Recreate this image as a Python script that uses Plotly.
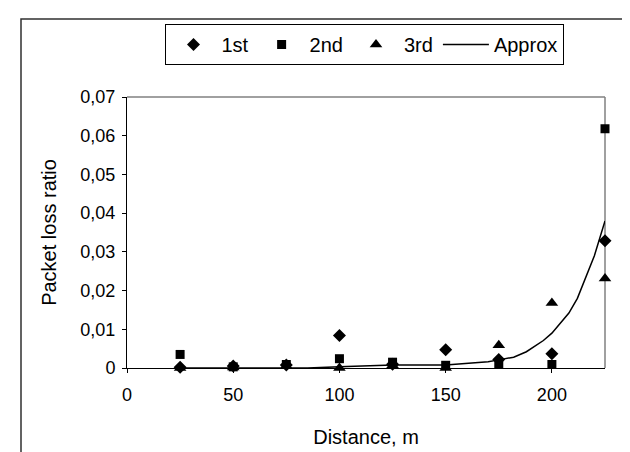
import plotly.graph_objects as go

# ---- data ----
distance = [25, 50, 75, 100, 125, 150, 175, 200, 225]
first = [0.0002, 0.0005, 0.0008, 0.0084, 0.0010, 0.0047, 0.0022, 0.0037, 0.0329]
second = [0.0035, 0.0003, 0.0009, 0.0024, 0.0015, 0.0007, 0.0010, 0.0009, 0.0618]
third = [0.0000, 0.0001, 0.0005, 0.0000, 0.0007, 0.0000, 0.0059, 0.0168, 0.0231]

approx_x = [25, 50, 75, 85, 100, 125, 150, 160, 170, 175, 182, 188, 192, 196,
            200, 204, 208, 212, 216, 220, 225]
approx_y = [0, 0, 0, 0, 0.0003, 0.0008, 0.0008, 0.0012, 0.0016, 0.0021, 0.0028,
            0.0042, 0.0056, 0.0071, 0.009, 0.0115, 0.0142, 0.018, 0.0235, 0.029, 0.038]

y_tickvals = [0, 0.01, 0.02, 0.03, 0.04, 0.05, 0.06, 0.07]
y_ticktext = ["0", "0,01", "0,02", "0,03", "0,04", "0,05", "0,06", "0,07"]
x_tickvals = [0, 50, 100, 150, 200]
x_ticktext = ["0", "50", "100", "150", "200"]

FONT = "Liberation Sans, Arial, sans-serif"

fig = go.Figure()
fig.add_trace(go.Scatter(x=distance, y=first, mode="markers", name="1st",
                         marker=dict(symbol="diamond", size=10, color="black"),
                         cliponaxis=False))
fig.add_trace(go.Scatter(x=distance, y=second, mode="markers", name="2nd",
                         marker=dict(symbol="square", size=9, color="black"),
                         cliponaxis=False))
fig.add_trace(go.Scatter(x=distance, y=third, mode="markers", name="3rd",
                         marker=dict(symbol="triangle-up", size=11, color="black"),
                         cliponaxis=False))
fig.add_trace(go.Scatter(x=approx_x, y=approx_y, mode="lines", name="Approx",
                         line=dict(color="black", width=1.5), cliponaxis=False))

W, H = 630, 452
L, R, T, B = 119, 33, 89, 92
pw, ph = W - L - R, H - T - B

def px(x):
    return (x - L) / pw

def py(y):
    return (H - B - y) / ph

shapes = [
    # outer chart border
    dict(type="rect", xref="paper", yref="paper", x0=px(13), x1=px(628),
         y0=py(470), y1=py(11), line=dict(color="#303030", width=1.5), layer="below"),
    # plot area top and right border (gray)
    dict(type="line", xref="paper", yref="paper", x0=0, x1=1, y0=1, y1=1,
         line=dict(color="#808080", width=1.5)),
    dict(type="line", xref="paper", yref="paper", x0=1, x1=1, y0=0, y1=1,
         line=dict(color="#808080", width=1.5), layer="below"),
]

fig.update_layout(
    width=W, height=H,
    margin=dict(l=L, r=R, t=T, b=B),
    paper_bgcolor="white", plot_bgcolor="white",
    font=dict(family=FONT, color="black", size=18),
    showlegend=True,
    legend=dict(orientation="h", x=px(356), xanchor="center", y=py(16), yanchor="top",
                bordercolor="black", borderwidth=1, bgcolor="white",
                font=dict(size=20, family=FONT), itemwidth=46, tracegroupgap=0),
    xaxis=dict(range=[0, 225], tickvals=x_tickvals, ticktext=x_ticktext,
               showgrid=False, zeroline=False, showline=True, linecolor="black",
               linewidth=1, ticks="outside", ticklen=4, tickcolor="black",
               tickfont=dict(size=18), ticklabelstandoff=6,
               title=dict(text="Distance, m", font=dict(size=20), standoff=26)),
    yaxis=dict(range=[0, 0.07], tickvals=y_tickvals, ticktext=y_ticktext,
               showgrid=False, zeroline=False, showline=True, linecolor="black",
               linewidth=1, ticks="outside", ticklen=4, tickcolor="black",
               tickfont=dict(size=18), ticklabelstandoff=3,
               title=dict(text="Packet loss ratio", font=dict(size=20), standoff=18)),
    shapes=shapes,
)

fig.write_html("out.html")
